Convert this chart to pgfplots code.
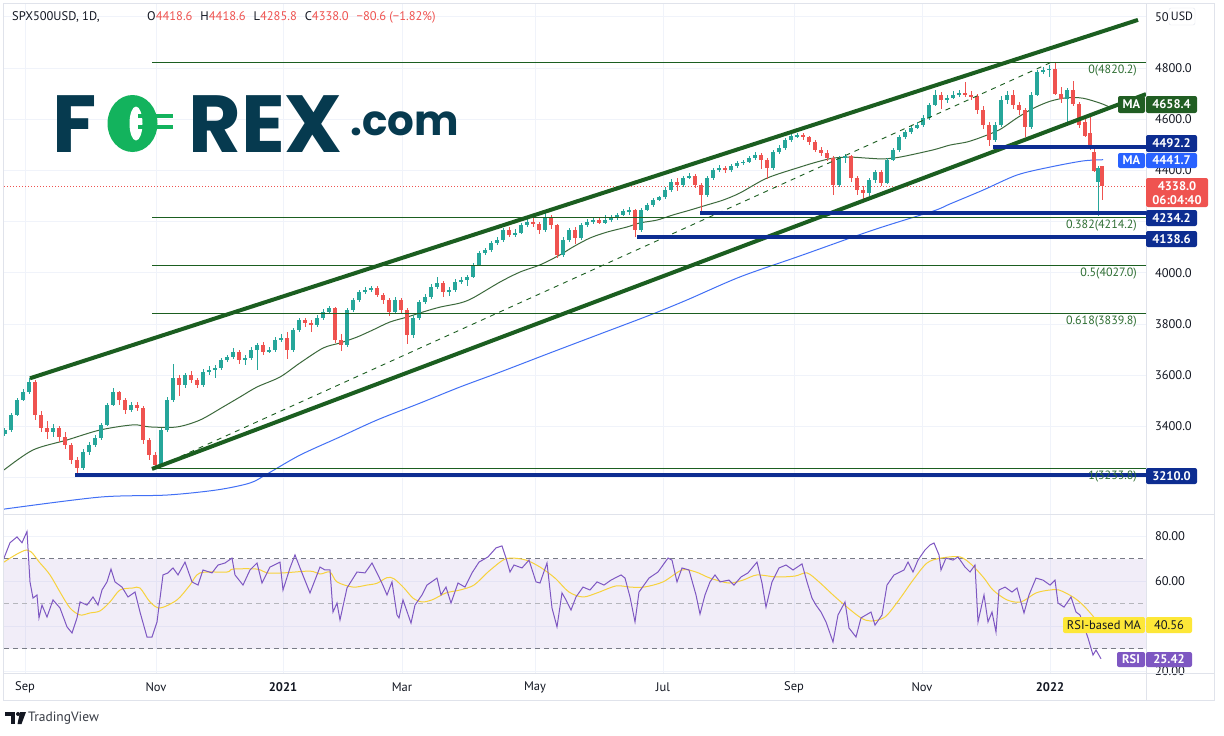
\documentclass[border=0pt]{standalone}
\usepackage{pgfplots}
\pgfplotsset{compat=1.18}
\usepackage{pgfplotstable}
\usepackage{fontspec}
\setmainfont{PT Sans}
\newfontfamily\logofont{Poppins}

\definecolor{upc}{RGB}{38,166,154}
\definecolor{dnc}{RGB}{239,83,80}
\definecolor{chg}{RGB}{27,94,32}
\definecolor{fibt}{RGB}{46,110,50}
\definecolor{ma50}{RGB}{60,105,60}
\definecolor{ma200}{RGB}{66,112,245}
\definecolor{navy}{RGB}{13,45,145}
\definecolor{magreen}{RGB}{33,94,35}
\definecolor{tvblue}{RGB}{41,98,255}
\definecolor{tvyellow}{RGB}{253,231,56}
\definecolor{rsiyel}{RGB}{247,210,60}
\definecolor{tvpurple}{RGB}{126,87,194}
\definecolor{rsidash}{RGB}{120,123,134}
\definecolor{tvgrid}{RGB}{240,243,250}
\definecolor{tvframe}{RGB}{224,227,235}
\definecolor{tvtext}{RGB}{19,23,34}
\definecolor{logodark}{RGB}{6,58,79}
\definecolor{logogreen}{RGB}{19,179,93}

\newcommand\tvfont{\fontsize{12.5}{14}\selectfont}

\pgfplotstableread{
x o h l c
5 3370 3395 3362 3386
11 3386 3452 3380 3445
17 3445 3510 3440 3503
23 3503 3545 3498 3534
29 3534 3588 3528 3574
35 3574 3580 3425 3445
41 3445 3460 3380 3394
47 3394 3420 3350 3378
53 3378 3410 3360 3394
59 3394 3400 3340 3359
65 3359 3380 3310 3327
71 3327 3335 3255 3269
77 3269 3280 3209 3238
83 3238 3310 3230 3300
89 3300 3340 3290 3327
95 3327 3365 3318 3355
101 3355 3415 3348 3406
107 3406 3490 3400 3484
113 3484 3550 3478 3534
119 3534 3540 3485 3503
125 3503 3512 3450 3464
131 3464 3495 3455 3484
137 3484 3495 3460 3472
143 3472 3480 3330 3347
149 3347 3355 3270 3288
155 3288 3300 3234 3249
161 3249 3395 3240 3386
167 3386 3515 3380 3503
173 3503 3645 3495 3589
179 3589 3600 3520 3562
185 3562 3610 3550 3601
191 3601 3615 3570 3581
197 3581 3590 3550 3562
203 3562 3625 3555 3613
209 3613 3635 3600 3620
215 3620 3640 3590 3628
221 3628 3668 3620 3659
227 3659 3680 3650 3671
233 3671 3705 3665 3691
239 3691 3700 3645 3659
245 3659 3680 3640 3667
251 3667 3712 3660 3699
257 3699 3725 3620 3718
263 3718 3728 3680 3691
269 3691 3712 3685 3699
275 3699 3748 3692 3738
281 3738 3760 3730 3745
287 3745 3770 3665 3699
293 3699 3785 3690 3777
299 3777 3822 3770 3816
305 3816 3825 3790 3804
311 3804 3815 3770 3796
317 3796 3835 3790 3824
323 3824 3858 3815 3847
329 3847 3870 3840 3863
335 3863 3866 3725 3738
341 3738 3760 3694 3718
347 3718 3862 3712 3855
353 3855 3900 3848 3894
359 3894 3932 3885 3925
365 3925 3945 3918 3933
371 3933 3950 3925 3941
377 3941 3948 3905 3913
383 3913 3920 3880 3894
389 3894 3900 3830 3847
395 3847 3905 3840 3894
401 3894 3900 3840 3855
407 3855 3862 3722 3757
413 3757 3835 3745 3824
419 3824 3893 3815 3886
425 3886 3918 3880 3906
431 3906 3955 3898 3945
437 3945 3982 3935 3960
443 3960 3968 3905 3925
449 3925 3945 3910 3933
455 3933 3975 3925 3964
461 3964 3985 3955 3972
467 3972 3992 3950 3984
473 3984 4040 3978 4031
479 4031 4085 4025 4077
485 4077 4098 4070 4089
491 4089 4125 4080 4116
497 4116 4140 4110 4128
503 4128 4175 4120 4167
509 4167 4180 4140 4148
515 4148 4170 4140 4156
521 4156 4195 4150 4187
527 4187 4210 4180 4199
533 4199 4215 4180 4191
539 4191 4200 4150 4167
545 4167 4238 4160 4214
551 4214 4225 4170 4187
557 4187 4190 4056 4070
563 4070 4140 4062 4128
569 4128 4175 4120 4167
575 4167 4180 4112 4136
581 4136 4195 4130 4187
587 4187 4210 4180 4199
593 4199 4215 4190 4205
599 4205 4216 4190 4196
605 4196 4225 4192 4208
611 4208 4225 4200 4214
617 4214 4234 4205 4226
623 4226 4250 4220 4241
629 4241 4258 4225 4245
635 4245 4250 4139 4167
641 4167 4252 4160 4245
647 4245 4272 4240 4265
653 4265 4292 4258 4284
659 4284 4302 4280 4296
665 4296 4335 4290 4323
671 4323 4365 4315 4355
677 4355 4370 4320 4343
683 4343 4380 4335 4370
689 4370 4390 4365 4378
695 4378 4385 4330 4343
701 4343 4350 4234 4304
707 4304 4378 4298 4370
713 4370 4410 4362 4402
719 4402 4420 4395 4409
725 4409 4418 4388 4400
731 4400 4425 4392 4417
737 4417 4438 4410 4429
743 4429 4442 4420 4433
749 4433 4458 4428 4448
755 4448 4472 4440 4460
761 4460 4468 4405 4441
767 4441 4450 4367 4409
773 4409 4480 4400 4472
779 4472 4498 4465 4488
785 4488 4528 4480 4519
791 4519 4545 4512 4534
797 4534 4548 4525 4538
803 4538 4545 4518 4530
809 4530 4535 4500 4511
815 4511 4518 4470 4480
821 4480 4490 4455 4468
827 4468 4478 4435 4448
833 4448 4455 4305 4343
839 4343 4458 4335 4448
845 4448 4465 4430 4455
851 4455 4460 4355 4370
857 4370 4380 4305 4323
863 4323 4340 4278 4312
869 4312 4372 4300 4363
875 4363 4402 4350 4394
881 4394 4400 4340 4351
887 4351 4448 4345 4441
893 4441 4488 4435 4480
899 4480 4540 4472 4531
905 4531 4558 4522 4550
911 4550 4575 4542 4566
917 4566 4590 4560 4577
923 4577 4615 4570 4605
929 4605 4665 4598 4656
935 4656 4715 4650 4695
941 4695 4705 4640 4675
947 4675 4695 4665 4683
953 4683 4710 4678 4695
959 4695 4715 4688 4702
965 4702 4745 4685 4695
971 4695 4712 4676 4689
977 4689 4700 4620 4636
983 4636 4652 4560 4577
989 4577 4590 4495 4519
995 4519 4590 4510 4577
1001 4577 4690 4570 4675
1007 4675 4710 4660 4695
1013 4695 4715 4640 4656
1019 4656 4668 4615 4636
1025 4636 4645 4530 4568
1031 4568 4705 4562 4695
1037 4695 4792 4690 4784
1043 4784 4805 4775 4792
1049 4792 4810 4765 4797
1055 4797 4818 4695 4700
1061 4700 4725 4662 4677
1067 4677 4720 4582 4713
1073 4713 4749 4650 4659
1079 4659 4666 4565 4577
1085 4588 4611 4530 4533
1090 4547 4612 4480 4483
1094 4471 4494 4395 4398
1098 4356 4417 4222 4410
1102 4418.6 4418.6 4285.8 4338
}\candledata

\pgfplotsset{
  tvaxis/.style={
    scale only axis, width=1142pt, xmin=4, xmax=1146,
    axis line style={draw=none}, major tick length=0pt, tick style={draw=none},
    xtick={25,156,283,402,535,663,794,922,1050},
    grid=major, major grid style={draw=tvgrid, line width=1pt},
    yticklabel pos=right,
    yticklabel style={anchor=west, xshift=5.5pt, font=\tvfont, text=tvtext,
      /pgf/number format/fixed, /pgf/number format/fixed zerofill,
      /pgf/number format/1000 sep={}, /pgf/number format/assume math mode=true},
    clip=true,
  },
  wick/.style={draw=none, mark=none, forget plot,
    error bars/.cd, y dir=both, y explicit, error mark=none,
    error bar style={draw=#1, line width=1pt, solid}},
  body/.style={draw=none, mark=none, forget plot,
    error bars/.cd, y dir=both, y explicit, error mark=none,
    error bar style={draw=#1, line width=3.6pt, solid}},
}

\begin{document}
\begin{tikzpicture}
\useasboundingbox (0pt,0pt) rectangle (1224pt,-736pt);
\fill[white] (0pt,0pt) rectangle (1224pt,-736pt);

%================ PRICE PANEL =================
\begin{axis}[tvaxis, at={(4pt,-514pt)}, anchor=south west, height=510pt,
  ymin=3057.9, ymax=5050, ytick={3200,3400,...,5000},
  yticklabels={,3400.0,3600.0,3800.0,4000.0,,4400.0,4600.0,4800.0,50},
  xticklabels={,,,,,,,,}]

% last price dotted line
\addplot[dnc, line width=1pt, dash pattern=on 1pt off 2pt] coordinates {(4,4338) (1146,4338)};

% 200 MA
\addplot[ma200, line width=1pt, smooth] coordinates {
(4,3077) (100,3124) (167,3132) (217,3152) (250,3179) (267,3214) (300,3288) (340,3359)
(377,3425) (420,3491) (460,3554) (500,3612) (550,3687) (600,3761) (650,3835) (687,3894)
(740,3984) (800,4066) (873,4167) (933,4241) (950,4269) (983,4323) (1017,4382) (1050,4413)
(1083,4437) (1103,4441.7)};

% 50 MA
\addplot[ma50, line width=1pt, smooth] coordinates {
(4,3230) (33,3308) (67,3347) (100,3386) (133,3406) (150,3398) (177,3398) (200,3425)
(223,3476) (240,3515) (257,3554) (280,3593) (300,3648) (323,3706) (340,3726) (357,3749)
(373,3777) (390,3808) (407,3827) (423,3847) (440,3866) (460,3882) (473,3902) (500,3964)
(520,4003) (540,4031) (560,4070) (573,4101) (590,4136) (607,4159) (627,4179) (640,4195)
(657,4206) (673,4226) (690,4245) (707,4265) (723,4284) (740,4312) (767,4370) (800,4413)
(817,4433) (833,4448) (850,4452) (867,4448) (883,4445) (900,4452) (933,4480) (950,4499)
(967,4511) (983,4532) (1000,4560) (1017,4605) (1033,4642) (1050,4670) (1067,4684)
(1083,4682) (1100,4663) (1108,4650)};

% candles
\addplot[wick=upc] table[x=x, y expr={\thisrow{c}>=\thisrow{o} ? (\thisrow{h}+\thisrow{l})/2 : nan}, y error expr={(\thisrow{h}-\thisrow{l})/2}] {\candledata};
\addplot[wick=dnc] table[x=x, y expr={\thisrow{c}<\thisrow{o} ? (\thisrow{h}+\thisrow{l})/2 : nan}, y error expr={(\thisrow{h}-\thisrow{l})/2}] {\candledata};
\addplot[body=upc] table[x=x, y expr={\thisrow{c}>=\thisrow{o} ? (\thisrow{o}+\thisrow{c})/2 : nan}, y error expr={abs(\thisrow{c}-\thisrow{o})/2}] {\candledata};
\addplot[body=dnc] table[x=x, y expr={\thisrow{c}<\thisrow{o} ? (\thisrow{o}+\thisrow{c})/2 : nan}, y error expr={abs(\thisrow{c}-\thisrow{o})/2}] {\candledata};

% fib levels
\addplot[chg, line width=1pt] coordinates {(152,4820.2) (1146,4820.2)};
\addplot[chg, line width=1pt] coordinates {(152,4214.2) (1146,4214.2)};
\addplot[chg, line width=1pt] coordinates {(152,4027.0) (1146,4027.0)};
\addplot[chg, line width=1pt] coordinates {(152,3839.8) (1146,3839.8)};
\addplot[chg, line width=1pt] coordinates {(152,3233.8) (1146,3233.8)};
% fib diagonal
\addplot[chg, line width=0.9pt, dash pattern=on 5pt off 5pt] coordinates {(153,3234) (1050,4820)};
% channel
\addplot[chg, line width=4pt] coordinates {(30,3588) (1138,4988)};
\addplot[chg, line width=4pt] coordinates {(152,3234) (1146,4698)};
% support / resistance levels
\addplot[navy, line width=4pt] coordinates {(75,3210) (1146,3210)};
\addplot[navy, line width=4pt] coordinates {(993,4492.2) (1146,4492.2)};
\addplot[navy, line width=4pt] coordinates {(700,4234.2) (1146,4234.2)};
\addplot[navy, line width=4pt] coordinates {(637,4138.6) (1146,4138.6)};

% fib labels
\begin{scope}[every node/.style={anchor=north east, inner sep=0pt, text=fibt, font=\fontsize{12}{13}\selectfont}]
\node at (axis cs:1137,4820.2) [yshift=-2pt] {0(4820.2)};
\node at (axis cs:1137,4214.2) [yshift=-2pt] {0.382(4214.2)};
\node at (axis cs:1137,4027.0) [yshift=-2pt] {0.5(4027.0)};
\node at (axis cs:1137,3839.8) [yshift=-2pt] {0.618(3839.8)};
\node at (axis cs:1137,3233.8) [yshift=-2pt] {1(3233.8)};
\end{scope}
\end{axis}

%================ RSI PANEL =================
\begin{axis}[tvaxis, at={(4pt,-673pt)}, anchor=south west, height=159pt,
  ymin=19.11, ymax=89.78, ytick={20,40,60,80},
  yticklabels={20.00,,60.00,80.00},
  xticklabels={Sep,Nov,\textbf{2021},Mar,May,Jul,Sep,Nov,\textbf{2022}},
  xticklabel style={anchor=center, yshift=-14pt, font=\tvfont, text=tvtext}]

\fill[tvpurple, fill opacity=0.1] (axis cs:4,30) rectangle (axis cs:1146,70);
\addplot[rsidash, line width=1pt, dash pattern=on 5pt off 4pt] coordinates {(4,70) (1146,70)};
\addplot[rsidash!55, line width=1pt, dash pattern=on 5pt off 4pt] coordinates {(4,50) (1146,50)};
\addplot[rsidash, line width=1pt, dash pattern=on 5pt off 4pt] coordinates {(4,30) (1146,30)};

% RSI-based MA
\addplot[rsiyel, line width=1pt, smooth] coordinates {
(4,68.4) (27,73.8) (40,68) (50,62.7) (60,55.1) (70,48) (80,44.9) (90,45.8) (100,46.7)
(110,50.7) (120,56) (133,56.9) (140,56.9) (150,50.7) (160,48) (177,51.6) (190,58.2)
(200,63.6) (227,64) (233,65.3) (257,65.3) (267,63.6) (283,63.6) (310,64.4) (320,63.1)
(330,64) (337,59.6) (353,57.3) (367,58.2) (377,59) (387,61.5) (394,61) (404,56.9)
(413,52.4) (422,50.7) (432,51.6) (446,54.7) (460,56) (474,58.2) (488,64) (503,69.3)
(512,70.2) (526,69.3) (540,66.2) (555,61.3) (569,55.1) (583,52.9) (597,54.7) (616,57.8)
(630,57.3) (644,57.3) (663,59.6) (682,64.9) (696,64) (710,61.3) (729,59.1) (743,60.4)
(757,62.7) (776,61.8) (795,62.2) (807,63.6) (819,59.6) (833,53.8) (847,48.4) (861,43.6)
(871,42.2) (885,44) (899,51.6) (913,60.4) (927,68) (941,70.2) (960,70.7) (972,67.1)
(984,61.3) (993,56) (1007,51.6) (1021,50.7) (1036,54.7) (1050,56) (1059,56) (1073,52.9)
(1083,49.3) (1092,44.9) (1100,40.56)};

% RSI
\addplot[tvpurple, line width=1pt] coordinates {
(4,70.2) (10,77) (17,79.6) (22,77) (27,82) (30,59.6) (33,52.4) (37,53.8) (39,43.6)
(42,49.3) (47,44) (53,51.6) (60,48) (67,39.6) (72,36.9) (77,43.6) (80,50.7) (87,49.3)
(93,52.9) (98,49.3) (102,56) (107,59.6) (111,65.3) (115,59.6) (122,57.3) (128,52.9)
(135,55.1) (140,46.2) (147,35.1) (152,35.1) (157,41.8) (163,62.7) (168,63.6) (173,65.8)
(178,62.7) (185,68.4) (192,59.6) (198,58.2) (203,64.9) (212,63.6) (218,67.1) (225,68)
(232,70.2) (235,62.7) (243,58.2) (250,64.9) (257,68) (262,59.1) (270,66.2) (280,68.4)
(283,56) (290,65.8) (295,71.6) (300,65.8) (310,54.7) (320,66.2) (325,64.9) (330,64.9)
(333,46.2) (337,50.2) (340,42.7) (347,56.9) (357,64) (365,63.6) (372,68) (378,62.7)
(383,58) (387,53.8) (392,59.6) (397,44.9) (399,43.6) (403,51.6) (411,41.3) (415,49.3)
(422,53.8) (427,58.2) (437,61.3) (441,53.8) (446,57.3) (451,50.2) (458,59.1) (465,57.3)
(472,63.6) (479,68.4) (488,70.7) (496,74.7) (502,75.6) (506,70.2) (510,64) (514,67.1)
(522,65.8) (529,69.3) (536,59.6) (540,59.1) (547,68) (552,48) (557,39.6) (562,54.7)
(566,51.6) (571,47.1) (576,52.9) (583,57.3) (590,56) (597,59.6) (604,58.2) (611,60.4)
(621,62.7) (625,61.3) (630,52.9) (635,41.8) (639,55.1) (649,61.3) (658,64) (668,70.2)
(672,69.3) (677,59.6) (682,65.8) (689,64.9) (696,53.8) (700,45.3) (705,53.8) (710,59.6)
(715,62.7) (720,59.6) (729,60.4) (734,58.2) (741,61.8) (748,63.6) (757,68.4) (762,59.1)
(766,48.4) (772,59.6) (779,65.8) (786,67.1) (793,64.9) (802,67.6) (807,59.6) (812,52.4)
(816,49.3) (821,46.2) (826,41.8) (833,32.9) (838,44.9) (845,50.7) (849,39.1) (856,35.1)
(861,43.6) (871,46.2) (875,40.4) (882,44.9) (887,58.2) (894,62.7) (904,64.9) (908,68.4)
(913,64) (918,69.3) (925,73.8) (930,76) (934,76.9) (939,71.6) (941,64.9) (946,70.2)
(953,69.3) (958,70.7) (965,66.2) (970,64) (975,67.1) (978,41.8) (984,53.8) (988,41.8)
(992,46.2) (996,37.3) (999,56) (1005,57.3) (1012,55.1) (1017,56.9) (1024,45.8) (1029,53.8)
(1036,61.3) (1043,60.4) (1050,58.2) (1055,60.4) (1058,50.2) (1064,48.4) (1071,52.9)
(1076,46.2) (1080,44.9) (1088,34.7) (1093,27.1) (1096,29.3) (1101,25.42)};
\end{axis}

%================ DECORATION =================
\begin{scope}[x=1pt,y=-1pt]
% frame and separators
\draw[tvframe, line width=1pt] (3.5,3.5) rectangle (1214.5,700);
\draw[tvframe, line width=1pt] (1146,3.5) -- (1146,700);
\draw[tvframe, line width=1pt] (3.5,514) -- (1214.5,514);
\draw[tvframe, line width=1pt] (3.5,673) -- (1214.5,673);

% header
\node[anchor=west, inner sep=0pt, font=\tvfont, text=tvtext] at (12,17) {SPX500USD, 1D,};
\node[anchor=west, inner sep=0pt, font=\tvfont, text=tvtext] at (147,17)
 {O\textcolor{dnc}{4418.6}\hspace{8pt}H\textcolor{dnc}{4418.6}\hspace{8pt}L\textcolor{dnc}{4285.8}\hspace{8pt}C\textcolor{dnc}{4338.0}\hspace{8pt}\textcolor{dnc}{−80.6 (−1.82\%)}};

% FOREX.com logo
\node[anchor=base west, inner sep=0pt, text=logodark, font=\logofont\bfseries\fontsize{81}{81}\selectfont] at (52,152) {F};
\fill[logogreen] (132.5,123.5) ellipse [x radius=25, y radius=28.5];
\fill[white] (136,123.5) ellipse [x radius=6.5, y radius=17];
\fill[logogreen] (138,113.5) rectangle (173,117.5);
\fill[logogreen] (138,125) rectangle (173,129);
\node[anchor=base west, inner sep=0pt, text=logodark, font=\logofont\bfseries\fontsize{81}{81}\selectfont] at (188,152) {REX};
\node[anchor=base west, inner sep=0pt, text=logodark, font=\logofont\bfseries\fontsize{42}{42}\selectfont] at (350,135) {.com};

% USD box
\fill[white, draw=tvframe, rounded corners=2pt] (1169,8) rectangle (1195,25);
\node[font=\fontsize{12}{13}\selectfont, text=tvtext, inner sep=0pt] at (1182,16.5) {USD};

% price labels
\begin{scope}[every node/.style={font=\tvfont\bfseries, text=white, inner sep=0pt}]
\fill[magreen, rounded corners=2pt] (1118,96) rectangle (1145,113);
\node at (1131.5,104.5) {MA};
\fill[magreen, rounded corners=2pt] (1146,96) rectangle (1197,113);
\node at (1171.5,104.5) {4658.4};
\fill[navy, rounded corners=2pt] (1146,135) rectangle (1197,152);
\node at (1171.5,143.5) {4492.2};
\fill[tvblue, rounded corners=2pt] (1118,153) rectangle (1145,168);
\node at (1131.5,160.5) {MA};
\fill[tvblue, rounded corners=2pt] (1146,153) rectangle (1197,168);
\node at (1171.5,160.5) {4441.7};
\fill[dnc, rounded corners=2pt] (1146,178) rectangle (1208,207);
\node at (1177,186) {4338.0};
\node at (1177,200) {06:04:40};
\fill[navy, rounded corners=2pt] (1146,210) rectangle (1197,226);
\node at (1171.5,218) {4234.2};
\fill[navy, rounded corners=2pt] (1146,231) rectangle (1197,247);
\node at (1171.5,239) {4138.6};
\fill[navy, rounded corners=2pt] (1146,468) rectangle (1197,484);
\node at (1171.5,476) {3210.0};
% RSI labels
\fill[tvyellow, rounded corners=2pt] (1063,617) rectangle (1145,633);
\node[text=tvtext, font=\tvfont] at (1104,625) {RSI-based MA};
\fill[tvyellow, rounded corners=2pt] (1146,617) rectangle (1192,633);
\node[text=tvtext, font=\tvfont] at (1169,625) {40.56};
\fill[tvpurple, rounded corners=2pt] (1117,652) rectangle (1145,667);
\node at (1131,659.5) {RSI};
\fill[tvpurple, rounded corners=2pt] (1146,652) rectangle (1192,667);
\node at (1169,659.5) {25.42};
\end{scope}

% TradingView logo
\fill[tvtext] (5,712) rectangle (15,715.5);
\fill[tvtext] (10.5,712) rectangle (14.5,724);
\fill[tvtext] (18,714) circle [radius=2];
\fill[tvtext] (20,712) -- (26,712) -- (21.5,724) -- (17.5,724) -- cycle;
\node[anchor=west, inner sep=0pt, font=\fontsize{13.5}{15}\selectfont, text=tvtext!85] at (28,718.5) {TradingView};
\end{scope}
\end{tikzpicture}
\end{document}
